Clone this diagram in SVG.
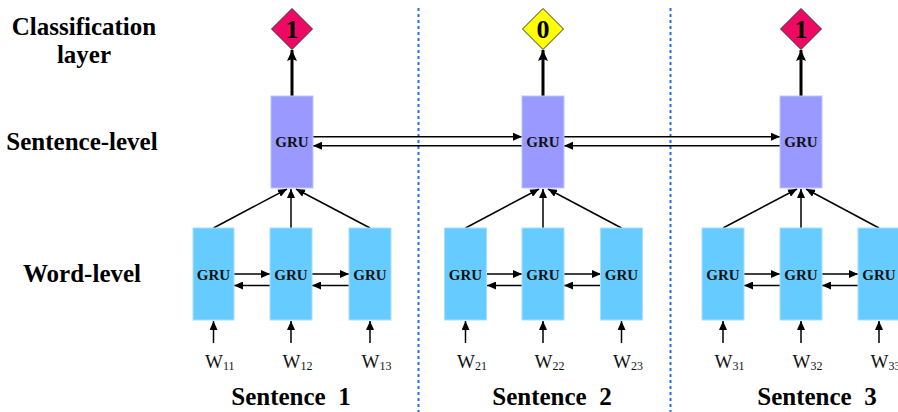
<svg xmlns="http://www.w3.org/2000/svg" width="898" height="412" viewBox="0 0 898 412">
<defs>
<style>
.lbl{font-family:"Liberation Serif","Times New Roman",serif;font-weight:bold;font-size:25px;fill:#000;text-anchor:middle}
.gru{font-family:"Liberation Serif","Times New Roman",serif;font-weight:bold;font-size:15px;fill:#111;text-anchor:middle}
.w{font-family:"Liberation Serif","Times New Roman",serif;font-size:19px;fill:#111}
.sub{font-size:12px}
.dig{font-family:"Liberation Serif","Times New Roman",serif;font-weight:bold;font-size:26px;fill:#000;text-anchor:middle}
.sbox{fill:#9999FF;stroke:#B5C8FF;stroke-width:1}
.wbox{fill:#66CCFF;stroke:#A8DEFF;stroke-width:1}
.ln{stroke:#000;stroke-width:1.5;fill:none}
.thick{stroke:#000;stroke-width:3;fill:none}
.sep{stroke:#1F6FF0;stroke-width:2;stroke-dasharray:3 3;fill:none}
.dia1{fill:#EE0A64;stroke:#333;stroke-width:1}
.dia0{fill:#FFFF00;stroke:#333;stroke-width:1}
</style>
<marker id="ah" markerUnits="userSpaceOnUse" markerWidth="10" markerHeight="8" refX="9" refY="4" orient="auto">
<path d="M0,0 L9,4 L0,8 Z" fill="#000"/>
</marker>
<marker id="ahb" markerUnits="userSpaceOnUse" markerWidth="12" markerHeight="10" refX="11" refY="5" orient="auto">
<path d="M0,0 L11,5 L0,10 L2,5 Z" fill="#000"/>
</marker>
</defs>
<rect width="898" height="412" fill="#fff"/>

<g id="labels">
<text class="lbl" x="84" y="35">Classification</text>
<text class="lbl" x="84" y="63">layer</text>
<text class="lbl" x="82" y="150">Sentence-level</text>
<text class="lbl" x="82" y="282">Word-level</text>
<text class="lbl" x="291" y="405" xml:space="preserve">Sentence  1</text>
<text class="lbl" x="552" y="405" xml:space="preserve">Sentence  2</text>
<text class="lbl" x="817" y="405" xml:space="preserve">Sentence  3</text>
</g>

<g id="separators">
<line class="sep" x1="418.5" y1="8" x2="418.5" y2="412"/>
<line class="sep" x1="670.5" y1="8" x2="670.5" y2="412"/>
</g>

<g id="connectors">
<line class="thick" x1="292" y1="96" x2="292" y2="50" marker-end="url(#ahb)"/>
<line class="thick" x1="543" y1="96" x2="543" y2="50" marker-end="url(#ahb)"/>
<line class="thick" x1="801" y1="96" x2="801" y2="50" marker-end="url(#ahb)"/>
<line class="ln" x1="313" y1="136.7" x2="522" y2="136.7" marker-end="url(#ah)"/>
<line class="ln" x1="522" y1="145.7" x2="313" y2="145.7" marker-end="url(#ah)"/>
<line class="ln" x1="564" y1="136.7" x2="780" y2="136.7" marker-end="url(#ah)"/>
<line class="ln" x1="780" y1="145.7" x2="564" y2="145.7" marker-end="url(#ah)"/>
<line class="ln" x1="213.5" y1="228" x2="287" y2="189" marker-end="url(#ah)"/>
<line class="ln" x1="291" y1="228" x2="291" y2="189" marker-end="url(#ah)"/>
<line class="ln" x1="370" y1="228" x2="296" y2="189" marker-end="url(#ah)"/>
<line class="ln" x1="465.5" y1="228" x2="539" y2="189" marker-end="url(#ah)"/>
<line class="ln" x1="543" y1="228" x2="543" y2="189" marker-end="url(#ah)"/>
<line class="ln" x1="621.5" y1="228" x2="548" y2="189" marker-end="url(#ah)"/>
<line class="ln" x1="723" y1="228" x2="797" y2="189" marker-end="url(#ah)"/>
<line class="ln" x1="801" y1="228" x2="801" y2="189" marker-end="url(#ah)"/>
<line class="ln" x1="879" y1="228" x2="806" y2="189" marker-end="url(#ah)"/>
<line class="ln" x1="234" y1="274" x2="270" y2="274" marker-end="url(#ah)"/>
<line class="ln" x1="270" y1="285.5" x2="234" y2="285.5" marker-end="url(#ah)"/>
<line class="ln" x1="312" y1="274" x2="349" y2="274" marker-end="url(#ah)"/>
<line class="ln" x1="349" y1="285.5" x2="312" y2="285.5" marker-end="url(#ah)"/>
<line class="ln" x1="487" y1="274" x2="522" y2="274" marker-end="url(#ah)"/>
<line class="ln" x1="522" y1="285.5" x2="487" y2="285.5" marker-end="url(#ah)"/>
<line class="ln" x1="564" y1="274" x2="601" y2="274" marker-end="url(#ah)"/>
<line class="ln" x1="601" y1="285.5" x2="564" y2="285.5" marker-end="url(#ah)"/>
<line class="ln" x1="744" y1="274" x2="780" y2="274" marker-end="url(#ah)"/>
<line class="ln" x1="780" y1="285.5" x2="744" y2="285.5" marker-end="url(#ah)"/>
<line class="ln" x1="822" y1="274" x2="858" y2="274" marker-end="url(#ah)"/>
<line class="ln" x1="858" y1="285.5" x2="822" y2="285.5" marker-end="url(#ah)"/>
<line class="ln" x1="213.5" y1="343" x2="213.5" y2="321" marker-end="url(#ah)"/>
<line class="ln" x1="291" y1="343" x2="291" y2="321" marker-end="url(#ah)"/>
<line class="ln" x1="370" y1="343" x2="370" y2="321" marker-end="url(#ah)"/>
<line class="ln" x1="465.5" y1="343" x2="465.5" y2="321" marker-end="url(#ah)"/>
<line class="ln" x1="543" y1="343" x2="543" y2="321" marker-end="url(#ah)"/>
<line class="ln" x1="621.5" y1="343" x2="621.5" y2="321" marker-end="url(#ah)"/>
<line class="ln" x1="723" y1="343" x2="723" y2="321" marker-end="url(#ah)"/>
<line class="ln" x1="801" y1="343" x2="801" y2="321" marker-end="url(#ah)"/>
<line class="ln" x1="879" y1="343" x2="879" y2="321" marker-end="url(#ah)"/>
</g>

<g id="out1"><polygon class="dia1" points="292,8.5 312.5,29 292,49.5 271.5,29"/><text class="dig" x="292" y="38">1</text></g>
<g id="out2"><polygon class="dia0" points="543,8.5 563.5,29 543,49.5 522.5,29"/><text class="dig" x="543" y="38">0</text></g>
<g id="out3"><polygon class="dia1" points="801,8.5 821.5,29 801,49.5 780.5,29"/><text class="dig" x="801" y="38">1</text></g>

<g id="sgru1"><rect class="sbox" x="271" y="96" width="42" height="92"/><text class="gru" x="292" y="147">GRU</text></g>
<g id="sgru2"><rect class="sbox" x="522" y="96" width="42" height="92"/><text class="gru" x="543" y="147">GRU</text></g>
<g id="sgru3"><rect class="sbox" x="780" y="96" width="42" height="92"/><text class="gru" x="801" y="147">GRU</text></g>

<g id="wgru11"><rect class="wbox" x="193" y="228" width="41" height="92"/><text class="gru" x="213.5" y="280">GRU</text></g>
<g id="wgru12"><rect class="wbox" x="270" y="228" width="42" height="92"/><text class="gru" x="291" y="280">GRU</text></g>
<g id="wgru13"><rect class="wbox" x="349" y="228" width="42" height="92"/><text class="gru" x="370" y="280">GRU</text></g>
<g id="wgru21"><rect class="wbox" x="444.5" y="228" width="42" height="92"/><text class="gru" x="465.5" y="280">GRU</text></g>
<g id="wgru22"><rect class="wbox" x="522" y="228" width="42" height="92"/><text class="gru" x="543" y="280">GRU</text></g>
<g id="wgru23"><rect class="wbox" x="600.5" y="228" width="42" height="92"/><text class="gru" x="621.5" y="280">GRU</text></g>
<g id="wgru31"><rect class="wbox" x="702" y="228" width="42" height="92"/><text class="gru" x="723" y="280">GRU</text></g>
<g id="wgru32"><rect class="wbox" x="780" y="228" width="42" height="92"/><text class="gru" x="801" y="280">GRU</text></g>
<g id="wgru33"><rect class="wbox" x="858" y="228" width="42" height="92"/><text class="gru" x="879" y="280">GRU</text></g>

<g id="words">
<text class="w" x="205" y="368">W<tspan class="sub" dy="2">11</tspan></text>
<text class="w" x="282.5" y="368">W<tspan class="sub" dy="2">12</tspan></text>
<text class="w" x="361.5" y="368">W<tspan class="sub" dy="2">13</tspan></text>
<text class="w" x="457" y="368">W<tspan class="sub" dy="2">21</tspan></text>
<text class="w" x="534.5" y="368">W<tspan class="sub" dy="2">22</tspan></text>
<text class="w" x="613" y="368">W<tspan class="sub" dy="2">23</tspan></text>
<text class="w" x="714.5" y="368">W<tspan class="sub" dy="2">31</tspan></text>
<text class="w" x="792.5" y="368">W<tspan class="sub" dy="2">32</tspan></text>
<text class="w" x="870.5" y="368">W<tspan class="sub" dy="2">33</tspan></text>
</g>
</svg>
